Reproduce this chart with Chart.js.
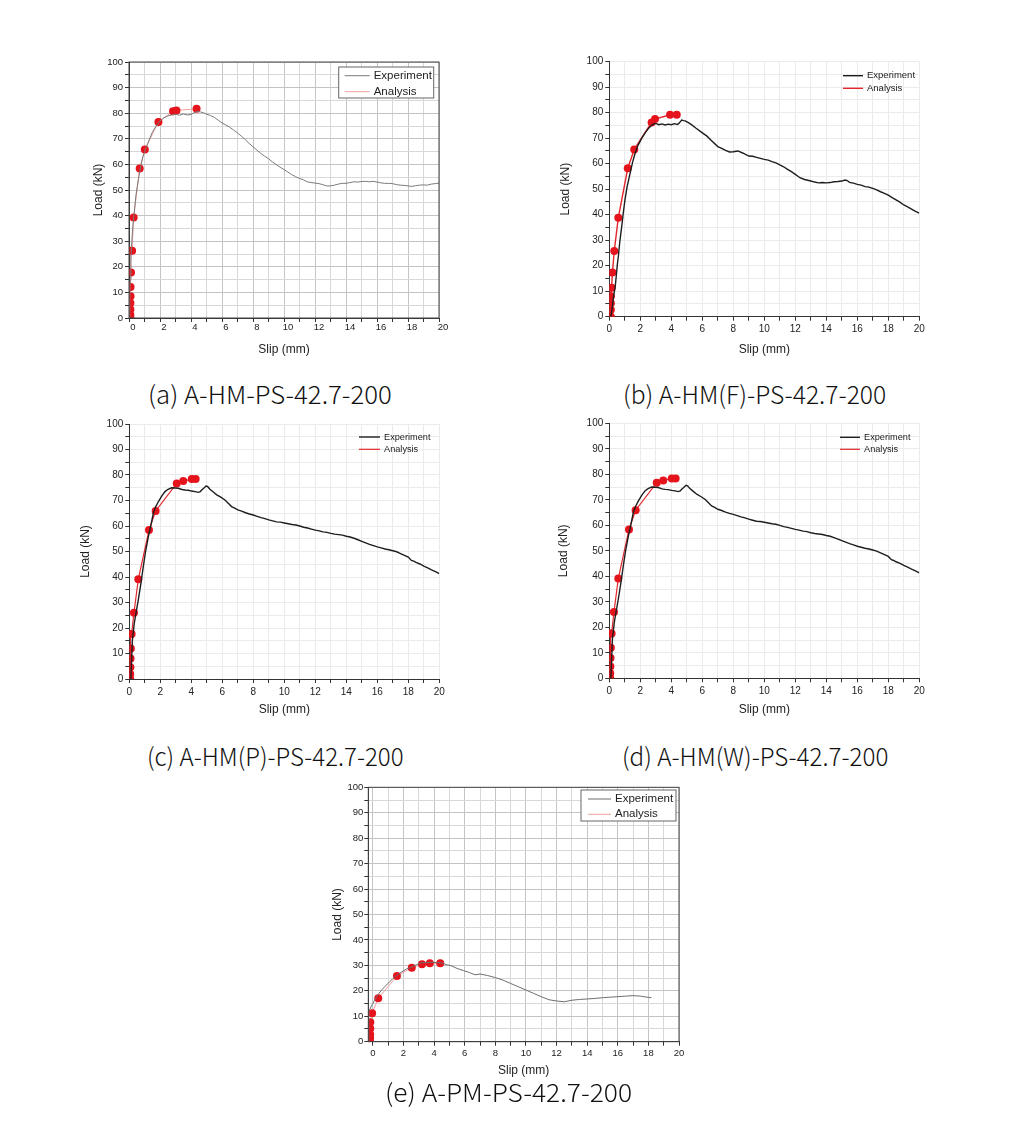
<!DOCTYPE html>
<html>
<head>
<meta charset="utf-8">
<script src="https://cdn.jsdelivr.net/npm/chart.js@4.4.0/dist/chart.umd.min.js"></script>
<style>
  body { margin:0; background:#fff; width:1020px; height:1141px; position:relative; overflow:hidden; }
  canvas { position:absolute; }
  .cap { position:absolute; font-family:"Noto Sans CJK KR", sans-serif; font-weight:300; font-size:25px; line-height:1; color:#111; white-space:nowrap; transform-origin:left top; }
</style>
</head>
<body>
<canvas id="ca" width="365" height="315" style="left:85px;top:50px"></canvas>
<canvas id="cb" width="375" height="315" style="left:555px;top:50px"></canvas>
<canvas id="cc" width="380" height="318" style="left:70px;top:412px"></canvas>
<canvas id="cd" width="380" height="318" style="left:550px;top:412px"></canvas>
<canvas id="ce" width="365" height="310" style="left:325px;top:775px"></canvas>

<div class="cap" data-w="244" style="left:148px;top:381px">(a) A-HM-PS-42.7-200</div>
<div class="cap" data-w="263" style="left:623px;top:381px">(b) A-HM(F)-PS-42.7-200</div>
<div class="cap" data-w="257" style="left:147px;top:743px">(c) A-HM(P)-PS-42.7-200</div>
<div class="cap" data-w="266" style="left:622px;top:743px">(d) A-HM(W)-PS-42.7-200</div>
<div class="cap" data-w="247" style="left:385px;top:1079px">(e) A-PM-PS-42.7-200</div>

<script>
// tick labels
const xLabels = [0, 2, 4, 6, 8, 10, 12, 14, 16, 18, 20];
const yLabels = [0, 10, 20, 30, 40, 50, 60, 70, 80, 90, 100];
const seriesNames = ['Experiment', 'Analysis'];

// (a) A-HM-PS-42.7-200
const aExpX = [0.03,0.05,0.08,0.12,0.18,0.25,0.35,0.45,0.6,0.75,
  0.9,1.1,1.3,1.5,1.75,2.0,2.25,2.5,2.75,3.0,
  3.25,3.5,3.75,4.0,4.2,4.4,4.6,4.8,5.0,5.25,
  5.5,5.75,6.0,6.25,6.5,6.75,7.0,7.25,7.5,7.75,
  8.0,8.25,8.5,8.75,9.0,9.25,9.5,9.75,10.0,10.25,
  10.5,10.75,11.0,11.25,11.5,11.75,12.0,12.25,12.5,12.75,
  13.0,13.25,13.5,13.75,14.0,14.25,14.5,14.75,15.0,15.25,
  15.5,15.75,16.0,16.25,16.5,16.75,17.0,17.25,17.5,17.75,
  18.0,18.25,18.5,18.75,19.0,19.25,19.5,19.75,20.0];
const aExpY = [0,8,15,22,30,36,42,48,54,59,
  63,66.5,69.5,72.5,75,77,78.2,78.9,79.3,79.6,
  79.2,79.7,79.3,79.5,80.2,80.7,80.5,80.2,79.6,79.1,
  78.4,77.3,76.2,75.4,74.5,73.4,72.3,71.0,69.7,68.2,
  66.9,65.6,64.3,63.2,62.2,61.0,59.9,58.9,58.0,57.0,
  56.0,55.2,54.5,54.0,53.2,52.9,52.7,52.5,52.1,51.6,
  51.6,51.9,52.3,52.6,52.6,52.9,53.2,53.1,53.3,53.4,
  53.2,53.4,53.1,52.8,52.6,52.6,52.5,52.1,51.9,51.8,
  51.6,51.4,51.7,51.9,52.0,51.9,52.3,52.5,52.7];
const aAnaX = [0.09,0.09,0.09,0.09,0.1,0.1,0.13,0.1,0.2,0.3,0.69,1.02,1.9,2.84,3.06,4.36];
const aAnaY = [0,1.2,3.3,5.9,8.5,12.1,17.8,26.3,26.3,39.3,58.4,65.8,76.6,80.8,81.1,81.7];

// (b) A-HM(F)-PS-42.7-200
const bExpX = [0.1,0.2,0.26,0.33,0.37,0.45,0.52,0.58,0.68,0.8,
  0.9,1.01,1.15,1.34,1.5,1.66,1.85,2.09,2.3,2.52,
  2.7,2.84,3.0,3.2,3.4,3.6,3.8,4.0,4.2,4.4,
  4.5,4.6,4.67,4.8,4.9,5.1,5.3,5.6,5.96,6.3,
  6.6,7.0,7.25,7.5,7.75,8.0,8.3,8.6,9.0,9.25,
  9.5,9.75,10.0,10.25,10.5,10.75,11.0,11.25,11.5,11.75,
  12.0,12.3,12.6,13.0,13.25,13.5,13.75,14.0,14.25,14.5,
  14.75,15.0,15.2,15.35,15.5,15.75,16.0,16.25,16.5,16.75,
  17.0,17.25,17.5,17.75,18.0,18.25,18.5,18.75,19.0,19.25,
  19.5,19.75,20.0];
const bExpY = [0,4,7.3,10,11.1,16,20.5,23.5,29.5,35.3,
  40.5,45.8,51,56.2,60.5,64,67.2,69.9,72,73.8,
  74.9,75.5,75.8,75.3,75.6,75.2,75.5,75.3,75.7,75.4,
  75.9,76.6,77.1,76.9,76.8,76.1,75.3,73.9,72.3,70.8,
  69,66.7,66.0,65.2,64.6,64.7,65.0,64.2,63.0,62.9,
  62.5,62.1,61.7,61.4,60.8,60.3,59.5,58.8,57.8,56.9,
  55.8,54.5,53.8,53.2,52.8,52.5,52.6,52.5,52.6,52.9,
  53.0,53.2,53.6,53.4,52.7,52.4,51.9,51.6,51.0,50.8,
  50.3,49.7,49.0,48.4,47.7,46.7,45.8,44.9,43.8,43.1,
  42.2,41.3,40.6];
const bAnaX = [0.1,0.1,0.1,0.1,0.15,0.2,0.32,0.58,1.19,1.61,2.73,2.95,3.92,4.35];
const bAnaY = [0,2.7,5.3,8,11.4,17.3,25.8,38.8,58.2,65.6,76.2,77.5,79.2,79.2];

// (c) A-HM(P)-PS-42.7-200 and (d) A-HM(W)-PS-42.7-200 (same curves)
const cExpX = [0.1,0.15,0.2,0.26,0.32,0.45,0.58,0.75,0.9,1.05,
  1.23,1.4,1.55,1.7,1.87,2.1,2.3,2.5,2.73,2.95,
  3.16,3.4,3.6,3.8,4.02,4.25,4.45,4.58,4.67,4.8,
  4.95,5.05,5.2,5.4,5.64,5.9,6.17,6.4,6.6,6.8,
  7.0,7.25,7.5,7.75,8.0,8.25,8.5,8.75,9.0,9.25,
  9.5,9.75,10.0,10.25,10.5,10.75,11.0,11.25,11.5,11.75,
  12.0,12.25,12.5,12.75,13.0,13.25,13.5,13.75,14.0,14.25,
  14.5,14.75,15.0,15.25,15.5,15.75,16.0,16.25,16.5,16.75,
  17.0,17.25,17.5,17.75,18.0,18.2,18.35,18.5,18.75,19.0,
  19.25,19.5,19.75,20.0];
const cExpY = [0,8,15.3,18.5,21.8,26.5,31,37.5,44,50,
  55.8,60.5,65,67.5,69.5,71.8,73.5,74.4,75,74.9,
  74.8,74.3,74.1,74.0,73.7,73.5,73.2,73.5,74.1,74.8,
  75.7,75.5,74.4,73.4,72.2,71.3,70.2,68.8,67.6,67.0,
  66.3,65.8,65.2,64.7,64.3,63.8,63.3,62.9,62.4,62.0,
  61.6,61.5,61.2,60.9,60.6,60.4,60.0,59.5,59.2,58.8,
  58.4,58.1,57.7,57.5,57.1,56.8,56.6,56.4,56.0,55.7,
  55.2,54.6,54.0,53.4,52.8,52.3,51.8,51.4,51.0,50.7,
  50.3,49.9,49.2,48.5,47.8,46.5,46.2,45.7,45.1,44.3,
  43.6,42.8,42.1,41.3];
const cAnaX = [0.06,0.06,0.07,0.08,0.1,0.1,0.15,0.3,0.58,1.27,1.7,3.06,3.48,4.03,4.28];
const cAnaY = [0,2,4.6,8,12,17.6,17.6,26,39.1,58.4,65.9,76.7,77.6,78.4,78.4];

// (e) A-PM-PS-42.7-200
const eExpX = [-0.28,-0.27,-0.22,-0.1,0,0.15,0.33,0.55,0.77,1.0,
  1.3,1.57,1.9,2.2,2.52,2.85,3.17,3.5,3.83,4.15,
  4.48,4.8,5.14,5.5,5.9,6.3,6.67,7.0,7.5,8.0,
  8.5,9.0,9.5,10.0,10.5,11.0,11.5,12.0,12.5,13.0,
  13.5,14.0,14.5,15.0,15.5,16.0,16.5,17.0,17.5,18.0,
  18.2];
const eExpY = [0,12.5,12.5,14,15,16.8,18.4,20.2,21.6,23,
  24.8,26.2,27.5,28.6,29.3,30.3,31,31.1,31.2,31.1,
  31,30.3,29.8,28.8,28,27.2,26.3,26.6,26,25.2,
  24.2,22.9,21.6,20.3,19,17.7,16.5,16,15.7,16.3,
  16.6,16.8,17,17.3,17.5,17.7,17.9,18.1,17.9,17.4,
  17.3];
const eAnaX = [-0.18,-0.18,-0.18,-0.17,-0.17,-0.05,0.35,1.57,2.54,3.21,3.72,4.4];
const eAnaY = [0,1.5,2.9,5.2,7.6,11.2,17.1,25.8,29.1,30.4,30.8,30.8];

const F = '"Liberation Sans", Arial, sans-serif';
const pts = (xs, ys) => xs.map((x, i) => ({ x: x, y: ys[i] }));

// box round the plot area
const borderBox = {
  id: 'borderBox',
  afterDraw(chart, args, o) {
    if (!o.on) return;
    const a = chart.chartArea, c = chart.ctx;
    c.save();
    c.strokeStyle = '#444';
    c.lineWidth = 1;
    c.strokeRect(a.left, a.top, a.right - a.left, a.bottom - a.top);
    c.restore();
  }
};

// legend drawn inside the plot area
const legendIn = {
  id: 'legendIn',
  afterDraw(chart, args, o) {
    const a = chart.chartArea, c = chart.ctx;
    c.save();
    if (o.box) {
      c.fillStyle = '#fff';
      c.fillRect(a.left + o.box[0], a.top + o.box[1], o.box[2], o.box[3]);
      c.strokeStyle = '#666';
      c.lineWidth = 1;
      c.strokeRect(a.left + o.box[0], a.top + o.box[1], o.box[2], o.box[3]);
    }
    c.font = o.size + 'px ' + F;
    c.textBaseline = 'middle';
    chart.data.datasets.forEach((d, i) => {
      const y = a.top + o.top + i * o.gap;
      const x = a.left + o.left;
      c.strokeStyle = d.borderColor;
      c.lineWidth = d.borderWidth;
      c.beginPath();
      c.moveTo(x, y);
      c.lineTo(x + o.len, y);
      c.stroke();
      c.fillStyle = '#222';
      c.fillText(d.label, x + o.len + 4, y);
    });
    c.restore();
  }
};

function makeChart(id, p) {
  return new Chart(document.getElementById(id), {
    type: 'scatter',
    data: {
      datasets: [{
        label: seriesNames[0],
        data: pts(p.exp[0], p.exp[1]),
        showLine: true,
        borderColor: p.expColor,
        borderWidth: p.expWidth,
        pointRadius: 0,
        tension: 0
      }, {
        label: seriesNames[1],
        data: pts(p.ana[0], p.ana[1]),
        showLine: true,
        borderColor: p.anaColor,
        borderWidth: p.anaWidth,
        pointRadius: 4,
        pointBackgroundColor: '#e5141c',
        pointBorderColor: '#e5141c',
        pointBorderWidth: 0,
        tension: 0
      }]
    },
    options: {
      responsive: false,
      animation: false,
      layout: { padding: { left: 0, top: p.padTop, right: p.padRight, bottom: 0 } },
      plugins: {
        legend: { display: false },
        tooltip: { enabled: false },
        borderBox: { on: p.box },
        legendIn: p.legend
      },
      scales: {
        x: {
          type: 'linear',
          min: p.xmin, max: 20,
          afterBuildTicks: s => { s.ticks = []; for (let v = 0; v <= 20; v++) s.ticks.push({ value: v }); },
          afterFit: s => { s.height = p.xh; },
          ticks: {
            autoSkip: false, maxRotation: 0,
            callback: v => xLabels.includes(v) ? v : '',
            font: { size: p.tickSize, family: F }, color: '#222',
            padding: p.xPad, labelOffset: p.xShift || 0
          },
          grid: {
            color: c => c.tick && c.tick.value % 2 === 0 ? p.gridMajor : p.gridMinor,
            tickLength: 4, tickColor: '#333'
          },
          border: { color: '#333', width: 1 },
          title: { display: true, text: 'Slip (mm)', font: { size: p.titleSize, family: F }, color: '#222', padding: { top: 0, bottom: p.xTitlePad } }
        },
        y: {
          type: 'linear',
          min: 0, max: 100,
          afterBuildTicks: s => { s.ticks = []; for (let v = 0; v <= 100; v += 5) s.ticks.push({ value: v }); },
          afterFit: s => { s.width = p.yw; },
          ticks: {
            autoSkip: false,
            callback: v => yLabels.includes(v) ? v : '',
            font: { size: p.tickSize, family: F }, color: '#222',
            padding: p.yPad
          },
          grid: {
            color: c => c.tick && c.tick.value % 10 === 0 ? p.gridMajor : p.gridMinor,
            tickLength: 4, tickColor: '#333'
          },
          border: { color: '#333', width: 1 },
          title: { display: true, text: 'Load (kN)', font: { size: p.titleSize, family: F }, color: '#222', padding: { top: p.yTitlePad, bottom: 0 } }
        }
      }
    },
    plugins: [borderBox, legendIn]
  });
}

makeChart('ca', {
  exp: [aExpX, aExpY], ana: [aAnaX, aAnaY],
  expColor: '#7a7a7a', expWidth: 1, anaColor: '#f2a0a0', anaWidth: 1,
  box: true, xmin: 0, xShift: 4,
  padTop: 12, padRight: 11, yw: 44, xh: 47,
  tickSize: 9.5, titleSize: 12, xPad: 0, yPad: 2, xTitlePad: 8, yTitlePad: 6,
  gridMajor: '#c4c4c4', gridMinor: '#d8d8d8',
  legend: { left: 215.7, top: 13.7, gap: 16, len: 25, size: 11.5, box: [209.7, 5, 95, 31] }
});

makeChart('cb', {
  exp: [bExpX, bExpY], ana: [bAnaX, bAnaY],
  expColor: '#1e1e1e', expWidth: 1.4, anaColor: '#e3262b', anaWidth: 1.4,
  box: false, xmin: 0,
  padTop: 11.7, padRight: 10.7, yw: 54.3, xh: 48.3,
  tickSize: 10, titleSize: 12, xPad: 3, yPad: 2, xTitlePad: 8, yTitlePad: 3.5,
  gridMajor: '#ebebeb', gridMinor: '#ebebeb',
  legend: { left: 233.7, top: 14, gap: 12.6, len: 20, size: 9.5 }
});

makeChart('cc', {
  exp: [cExpX, cExpY], ana: [cAnaX, cAnaY],
  expColor: '#1e1e1e', expWidth: 1.4, anaColor: '#e3262b', anaWidth: 1.2,
  box: false, xmin: 0,
  padTop: 12, padRight: 10.7, yw: 59.3, xh: 51,
  tickSize: 10, titleSize: 12, xPad: 3, yPad: 2, xTitlePad: 13, yTitlePad: 8.5,
  gridMajor: '#ebebeb', gridMinor: '#ebebeb',
  legend: { left: 229.7, top: 13, gap: 12.3, len: 21, size: 9.2 }
});

makeChart('cd', {
  exp: [cExpX, cExpY], ana: [cAnaX, cAnaY],
  expColor: '#1e1e1e', expWidth: 1.4, anaColor: '#e3262b', anaWidth: 1.2,
  box: false, xmin: 0,
  padTop: 11.3, padRight: 10.7, yw: 59.3, xh: 51.7,
  tickSize: 10, titleSize: 12, xPad: 3, yPad: 2, xTitlePad: 13, yTitlePad: 6.5,
  gridMajor: '#ebebeb', gridMinor: '#ebebeb',
  legend: { left: 230.7, top: 14, gap: 12, len: 20, size: 9.2 }
});

makeChart('ce', {
  exp: [eExpX, eExpY], ana: [eAnaX, eAnaY],
  expColor: '#6e6e6e', expWidth: 1, anaColor: '#f2a0a0', anaWidth: 1,
  box: true, xmin: -0.3,
  padTop: 12.3, padRight: 11, yw: 43.3, xh: 43.3,
  tickSize: 9.5, titleSize: 12, xPad: 2, yPad: 1, xTitlePad: 7, yTitlePad: 5,
  gridMajor: '#c4c4c4', gridMinor: '#d8d8d8',
  legend: { left: 219.7, top: 11.7, gap: 15.3, len: 23, size: 11.5, box: [212.7, 2.7, 95, 31] }
});

// stretch captions to the width they take in the figure
document.querySelectorAll('.cap').forEach(el => {
  const w = +el.dataset.w;
  el.style.transform = 'scaleX(' + (w / el.offsetWidth) + ')';
});
</script>
</body>
</html>
